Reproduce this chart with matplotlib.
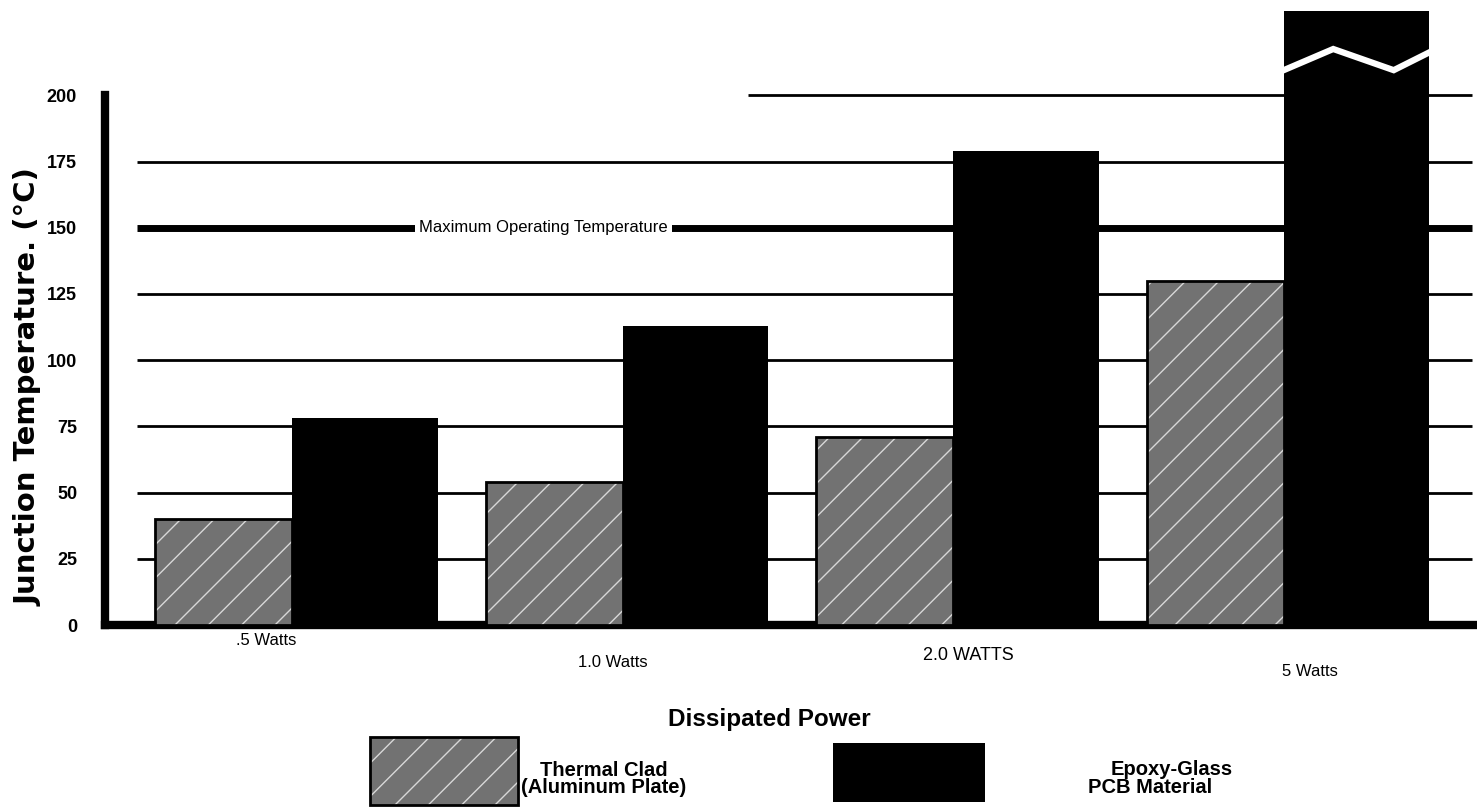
"""
Temperatura de unión: Thermal Clad contra Epoxy-Glass
"""

import numpy as np
import matplotlib
matplotlib.use("Agg")
import matplotlib.pyplot as plt
from matplotlib.patches import Rectangle

# datos
potencias = [".5 Watts", "1.0 Watts", "2.0 WATTS", "5 Watts"]
thermal_clad = [40, 54, 71, 130]
epoxy_glass = [78, 113, 179, 232]   # la ultima barra sale del grafico (eje cortado)
ticks_y = [0, 25, 50, 75, 100, 125, 150, 175, 200]
temp_max = 150

fuente = ["Liberation Sans", "DejaVu Sans"]

fig = plt.figure(figsize=(14.77, 8.07), dpi=100)
ax = fig.add_axes([0.071, 0.2255, 0.929, 0.7745])

x = np.arange(len(potencias))
ancho_tc = 0.415
ancho_ep = 0.44
ax.set_xlim(-0.567, 3.585)
ax.set_ylim(0, 236)

# lineas horizontales
for t in ticks_y[1:]:
	if t == temp_max:
		continue
	inicio = 1.38 if t == 200 else -0.47
	ax.hlines(t, inicio, 3.57, color="black", lw=2, zorder=1)
ax.hlines(temp_max, -0.47, 3.57, color="black", lw=5, zorder=1)
ax.text(0.76, temp_max, "Maximum Operating Temperature", ha="center", va="center",
		fontsize=12, family=fuente, zorder=2,
		bbox=dict(facecolor="white", edgecolor="none", pad=3))

# barras Thermal Clad (gris con rayado)
ax.bar(x, thermal_clad, -ancho_tc, align="edge", color="#727272", edgecolor="#d8d8d8",
	   hatch="/", lw=0, zorder=3)
ax.bar(x, thermal_clad, -ancho_tc, align="edge", fill=False, edgecolor="black", lw=2, zorder=4)
# barras Epoxy-Glass (negras)
ax.bar(x, epoxy_glass, ancho_ep, align="edge", color="black", lw=0, zorder=3)

# zigzag de corte en la ultima barra
xb = x[-1]
ax.plot([xb, xb + 0.15, xb + 0.333, xb + ancho_ep + 0.005],
		[209.5, 217.5, 209.5, 216.5], color="white", lw=4.5, zorder=5,
		solid_joinstyle="miter")

# ejes
for s in ["top", "right"]:
	ax.spines[s].set_visible(False)
ax.spines["left"].set_linewidth(6)
ax.spines["bottom"].set_linewidth(6)
ax.spines["left"].set_bounds(0, 200)
ax.set_yticks(ticks_y)
ax.set_yticklabels([str(t) for t in ticks_y], family=fuente, fontweight="bold", fontsize=13)
ax.tick_params(axis="y", length=0, pad=20)
ax.set_xticks([])
fig.text(0.019, 0.52, "Junction Temperature. (°C)", rotation=90, ha="center", va="center",
		 fontsize=21, fontweight="bold")

# etiquetas de potencia (desplazadas como en el original)
desp_x = [-0.08, -0.03, 0.045, 0.08]
desp_y = [-0.025, -0.06, -0.048, -0.075]
tam = [12, 12, 13, 12]
for i, etiqueta in enumerate(potencias):
	ax.text(x[i] + desp_x[i], desp_y[i], etiqueta, transform=ax.get_xaxis_transform(),
			ha="center", va="center", fontsize=tam[i], family=fuente)

fig.text(0.521, 0.108, "Dissipated Power", ha="center", va="center",
		 fontsize=17.5, fontweight="bold", family=fuente)

# leyenda manual
fig.patches.append(Rectangle((0.2505, 0.003), 0.1002, 0.0835, transform=fig.transFigure,
							 facecolor="#727272", edgecolor="#d8d8d8", hatch="/", lw=0))
fig.patches.append(Rectangle((0.2505, 0.003), 0.1002, 0.0835, transform=fig.transFigure,
							 fill=False, edgecolor="black", lw=2))
fig.text(0.409, 0.035, "Thermal Clad\n(Aluminum Plate)", ha="center", va="center",
		 fontsize=14.5, fontweight="bold", family=fuente, linespacing=0.85)
fig.patches.append(Rectangle((0.564, 0.006), 0.103, 0.073, transform=fig.transFigure,
							 facecolor="black", edgecolor="none"))
fig.text(0.7935, 0.047, "Epoxy-Glass", ha="center", va="center",
		 fontsize=14.5, fontweight="bold", family=fuente)
fig.text(0.7786, 0.024, "PCB Material", ha="center", va="center",
		 fontsize=14.5, fontweight="bold", family=fuente)

fig.savefig("out.png", dpi=100)
